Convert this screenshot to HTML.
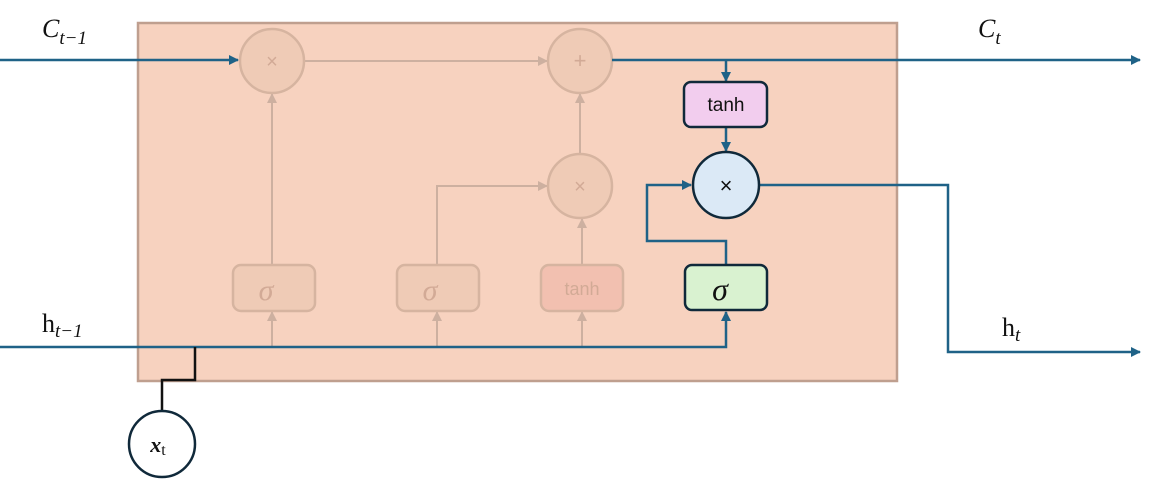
<!DOCTYPE html>
<html><head><style>body{margin:0;background:#fff}svg{display:block}</style></head><body>
<svg width="1152" height="479" viewBox="0 0 1152 479" xmlns="http://www.w3.org/2000/svg">
<defs>
<marker id="b" markerWidth="10" markerHeight="10" refX="9" refY="5" orient="auto" markerUnits="userSpaceOnUse"><path d="M0,0 L10,5 L0,10z" fill="#1f6287"/></marker>
<marker id="f" markerWidth="10" markerHeight="10" refX="9" refY="5" orient="auto" markerUnits="userSpaceOnUse"><path d="M0,0 L10,5 L0,10z" fill="#cdb0a0"/></marker>
</defs>
<rect x="138" y="23" width="759" height="358" fill="#f7d2bf" stroke="#bf9f8f" stroke-width="2.5"/>
<g stroke="#cdb0a0" stroke-width="2" fill="none">
<line x1="305" y1="61" x2="547" y2="61" marker-end="url(#f)"/>
<line x1="272" y1="265" x2="272" y2="94" marker-end="url(#f)"/>
<polyline points="437,265 437,186 547,186" marker-end="url(#f)"/>
<line x1="582" y1="265" x2="582" y2="219" marker-end="url(#f)"/>
<line x1="580" y1="153" x2="580" y2="94" marker-end="url(#f)"/>
<line x1="272" y1="347" x2="272" y2="312" marker-end="url(#f)"/>
<line x1="437" y1="347" x2="437" y2="312" marker-end="url(#f)"/>
<line x1="582" y1="347" x2="582" y2="312" marker-end="url(#f)"/>
</g>
<g fill="#efcbb6" stroke="#d6b4a0" stroke-width="2.5">
<circle cx="272" cy="61" r="32"/><circle cx="580" cy="61" r="32"/><circle cx="580" cy="186" r="32"/>
<rect x="233" y="265" width="82" height="46" rx="8"/><rect x="397" y="265" width="82" height="46" rx="8"/>
<rect x="541" y="265" width="82" height="46" rx="8" fill="#f2c0b0"/>
</g>
<g fill="#d2aa96" font-family="Liberation Sans, sans-serif" text-anchor="middle">
<text x="272" y="68" font-size="20">×</text><text x="580" y="68" font-size="22">+</text><text x="580" y="193" font-size="20">×</text>
<text x="582" y="295" font-size="18">tanh</text>
<text x="266" y="300" font-size="30" font-style="italic" font-family="Liberation Serif, serif">σ</text>
<text x="430" y="300" font-size="30" font-style="italic" font-family="Liberation Serif, serif">σ</text>
</g>
<g stroke="#1f6287" stroke-width="2.5" fill="none">
<line x1="0" y1="60" x2="238" y2="60" marker-end="url(#b)"/>
<line x1="612" y1="60" x2="1140" y2="60" marker-end="url(#b)"/>
<line x1="726" y1="60" x2="726" y2="81" marker-end="url(#b)"/>
<line x1="726" y1="127" x2="726" y2="151" marker-end="url(#b)"/>
<polyline points="726,264 726,241 647,241 647,185 691,185" marker-end="url(#b)"/>
<polyline points="760,185 948,185 948,352 1140,352" marker-end="url(#b)"/>
<polyline points="0,347 726,347 726,312" marker-end="url(#b)"/>
</g>
<polyline points="195,347 195,380 162,380 162,411" stroke="#111" stroke-width="2.5" fill="none"/>
<g stroke="#10293a" stroke-width="2.5">
<rect x="684" y="82" width="83" height="45" rx="7" fill="#f2cdee"/>
<rect x="685" y="265" width="82" height="45" rx="7" fill="#d9f2d0"/>
<circle cx="726" cy="185" r="33" fill="#dbe9f6"/>
<circle cx="162" cy="444" r="33" fill="#fff"/>
</g>
<g font-family="Liberation Sans, sans-serif" fill="#111" text-anchor="middle">
<text x="726" y="111" font-size="19">tanh</text>
<text x="726" y="193" font-size="22">×</text>
<text x="720" y="300" font-size="32" font-style="italic" font-family="Liberation Serif, serif">σ</text>
<text x="158" y="452" font-size="22" font-weight="bold" font-style="italic" font-family="Liberation Serif, serif">x<tspan font-size="16" font-weight="normal" font-style="normal" dy="3">t</tspan></text>
</g>
<g font-family="Liberation Serif, serif" fill="#111" font-size="26">
<text x="42" y="37" font-style="italic">C<tspan font-size="19" dy="7">t−1</tspan></text>
<text x="978" y="37" font-style="italic">C<tspan font-size="19" dy="7">t</tspan></text>
<text x="42" y="332">h<tspan font-size="19" dy="5" font-style="italic">t−1</tspan></text>
<text x="1002" y="336">h<tspan font-size="19" dy="5" font-style="italic">t</tspan></text>
</g>
</svg>
</body></html>
